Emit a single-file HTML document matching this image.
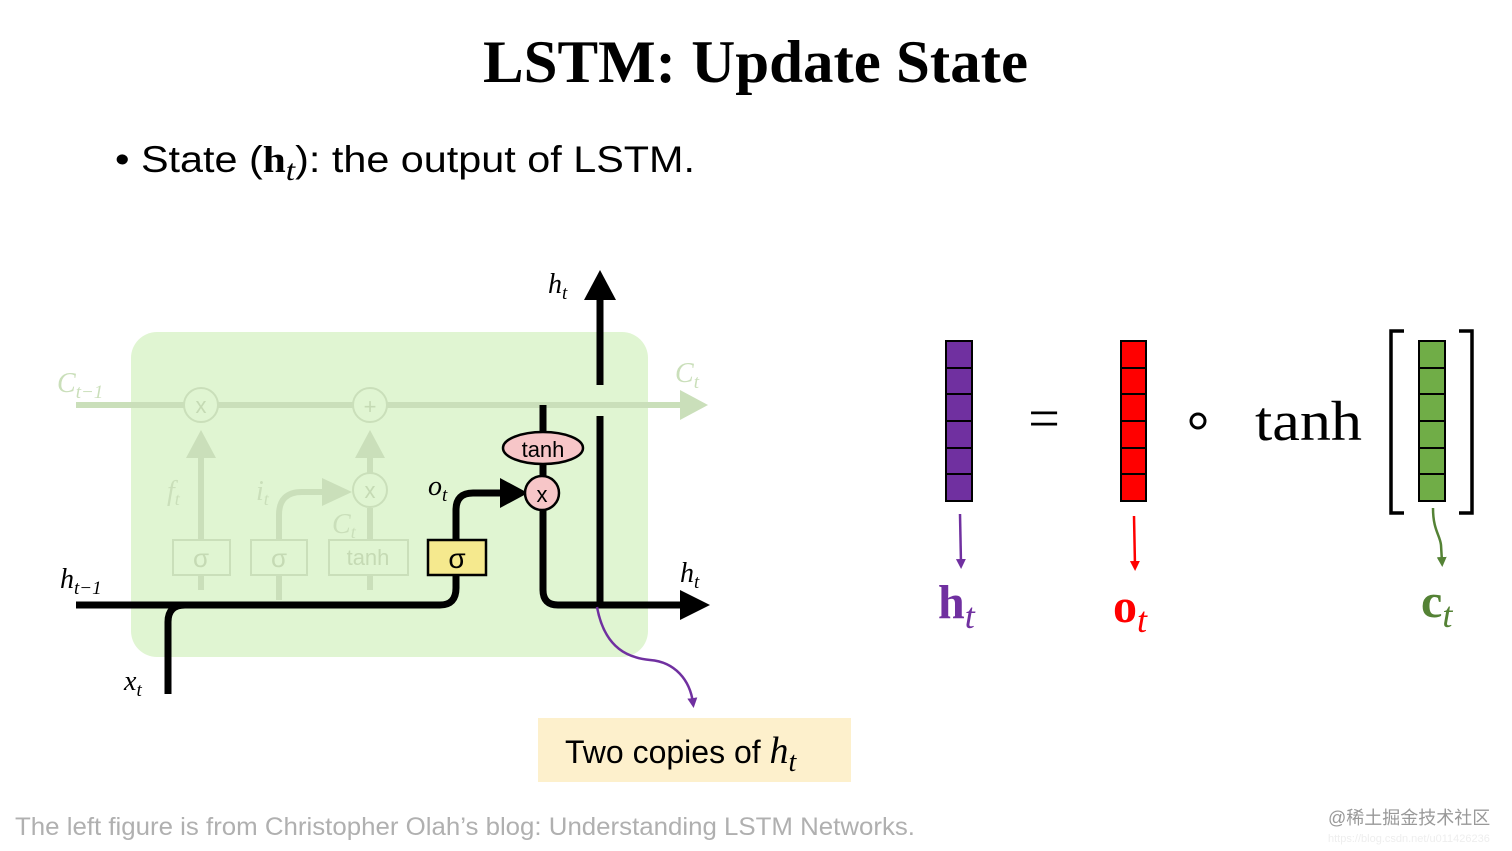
<!DOCTYPE html>
<html><head><meta charset="utf-8"><style>
html,body{margin:0;padding:0;background:#fff;}
svg{display:block;}
</style></head><body>
<svg width="1512" height="851" viewBox="0 0 1512 851" xmlns="http://www.w3.org/2000/svg">
<defs>
<marker id="ap" markerWidth="10" markerHeight="10" refX="5" refY="5" orient="auto" markerUnits="userSpaceOnUse"><path d="M0,0 L10,5 L0,10 z" fill="#7030a0"/></marker>
<marker id="ar" markerWidth="10" markerHeight="10" refX="5" refY="5" orient="auto" markerUnits="userSpaceOnUse"><path d="M0,0 L10,5 L0,10 z" fill="#ff0000"/></marker>
<marker id="ag" markerWidth="10" markerHeight="10" refX="5" refY="5" orient="auto" markerUnits="userSpaceOnUse"><path d="M0,0 L10,5 L0,10 z" fill="#548235"/></marker>
</defs>
<text x="483" y="82" font-family="Liberation Serif, serif" font-weight="bold" font-size="60" textLength="545" lengthAdjust="spacingAndGlyphs">LSTM: Update State</text>
<text x="115" y="172" font-family="Liberation Sans, sans-serif" font-size="37" textLength="580" lengthAdjust="spacingAndGlyphs">• State (<tspan font-family="Liberation Serif, serif" font-weight="bold">h</tspan><tspan font-family="Liberation Serif, serif" font-style="italic" dy="8" font-size="30">t</tspan><tspan dy="-8">): the output of LSTM.</tspan></text>

<rect x="131" y="332" width="517" height="325" rx="26" fill="#e0f5d2"/>
<g stroke="#cadfba" fill="none" stroke-width="6">
<line x1="76" y1="405" x2="688" y2="405"/>
<line x1="201" y1="590" x2="201" y2="452"/>
<line x1="370" y1="590" x2="370" y2="508"/>
<line x1="370" y1="474" x2="370" y2="452"/>
<path d="M279 600 L279 515 Q279 492 302 492 L330 492"/>
</g>
<g fill="#cadfba">
<path d="M680 390 L708 405 L680 420z"/>
<path d="M186 458 L201 430 L216 458z"/>
<path d="M355 458 L370 430 L385 458z"/>
<path d="M322 478 L352 492 L322 506z"/>
</g>
<g fill="#e0f5d2" stroke="#cadfba" stroke-width="2">
<circle cx="201" cy="405" r="17"/><circle cx="370" cy="405" r="17"/><circle cx="370" cy="490" r="17"/>
<rect x="173" y="540" width="57" height="35"/><rect x="251" y="540" width="56" height="35"/><rect x="329" y="540" width="79" height="35"/>
</g>
<g font-family="Liberation Sans, sans-serif" fill="#c5dab4" font-size="22" text-anchor="middle">
<text x="201" y="413">x</text><text x="370" y="414">+</text><text x="370" y="498">x</text>
<text x="201" y="567" font-size="26">σ</text><text x="279" y="567" font-size="26">σ</text><text x="368" y="565">tanh</text>
</g>
<g font-family="Liberation Serif, serif" font-style="italic" fill="#cadfba" font-size="28">
<text x="57" y="392">C<tspan font-size="19" dy="6">t−1</tspan></text>
<text x="675" y="382">C<tspan font-size="19" dy="6">t</tspan></text>
<text x="167" y="500">f<tspan font-size="18" dy="5">t</tspan></text>
<text x="256" y="500">i<tspan font-size="18" dy="5">t</tspan></text>
<text x="332" y="533">C<tspan font-size="18" dy="5">t</tspan></text>
</g>
<g stroke="#000" fill="none" stroke-width="7">
<path d="M76 605 L440 605 Q456 605 456 588 L456 575"/>
<path d="M168 694 L168 622 Q168 605 185 605"/>
<path d="M456 540 L456 510 Q456 493 473 493 L505 493"/>
<line x1="543" y1="405" x2="543" y2="432"/>
<line x1="543" y1="464" x2="543" y2="476"/>
<path d="M543 510 L543 590 Q543 605 558 605 L685 605"/>
<line x1="600" y1="385" x2="600" y2="298"/>
<line x1="600" y1="416" x2="600" y2="605"/>
</g>
<path d="M500 478 L528 493 L500 508z"/>
<path d="M680 590 L710 605 L680 620z"/>
<path d="M584 300 L600 270 L616 300z"/>
<rect x="428" y="540" width="58" height="35" fill="#f5e98e" stroke="#000" stroke-width="2.5"/>
<text x="457" y="568" font-family="Liberation Sans, sans-serif" font-size="28" text-anchor="middle">σ</text>
<ellipse cx="543" cy="448" rx="40" ry="16" fill="#f7c6c8" stroke="#000" stroke-width="2.5"/>
<text x="543" y="457" font-family="Liberation Sans, sans-serif" font-size="22" text-anchor="middle">tanh</text>
<circle cx="542" cy="493" r="17" fill="#f7c6c8" stroke="#000" stroke-width="2.5"/>
<text x="542" y="502" font-family="Liberation Sans, sans-serif" font-size="22" text-anchor="middle">x</text>
<g font-family="Liberation Serif, serif" font-style="italic" font-size="28">
<text x="548" y="293">h<tspan font-size="19" dy="6">t</tspan></text>
<text x="680" y="582">h<tspan font-size="19" dy="6">t</tspan></text>
<text x="60" y="588">h<tspan font-size="19" dy="6">t−1</tspan></text>
<text x="428" y="495">o<tspan font-size="19" dy="6">t</tspan></text>
<text x="124" y="690">x<tspan font-size="19" dy="6">t</tspan></text>
</g>
<path d="M597 607 C605 650 630 658 650 660 C675 662 690 680 693 703" stroke="#7030a0" stroke-width="2.5" fill="none" marker-end="url(#ap)"/>
<rect x="538" y="718" width="313" height="64" fill="#fdf0cc"/>
<text x="565" y="763" font-family="Liberation Sans, sans-serif" font-size="32">Two copies of <tspan font-family="Liberation Serif, serif" font-style="italic" font-size="38">h</tspan><tspan font-family="Liberation Serif, serif" font-style="italic" font-size="28" dy="8">t</tspan></text>

<g stroke="#000" stroke-width="2">
<g fill="#7030a0"><rect x="946" y="341" width="26" height="27"/><rect x="946" y="368" width="26" height="26"/><rect x="946" y="394" width="26" height="27"/><rect x="946" y="421" width="26" height="27"/><rect x="946" y="448" width="26" height="26"/><rect x="946" y="474" width="26" height="27"/></g>
<g fill="#ff0000"><rect x="1121" y="341" width="25" height="27"/><rect x="1121" y="368" width="25" height="26"/><rect x="1121" y="394" width="25" height="27"/><rect x="1121" y="421" width="25" height="27"/><rect x="1121" y="448" width="25" height="26"/><rect x="1121" y="474" width="25" height="27"/></g>
<g fill="#70ad47"><rect x="1419" y="341" width="26" height="27"/><rect x="1419" y="368" width="26" height="26"/><rect x="1419" y="394" width="26" height="27"/><rect x="1419" y="421" width="26" height="27"/><rect x="1419" y="448" width="26" height="26"/><rect x="1419" y="474" width="26" height="27"/></g>
</g>
<path d="M1404 331 L1391 331 L1391 513 L1404 513" stroke="#000" stroke-width="3.5" fill="none"/>
<path d="M1459 331 L1472 331 L1472 513 L1459 513" stroke="#000" stroke-width="3.5" fill="none"/>
<text x="1044" y="437" font-family="Liberation Serif, serif" font-size="56" text-anchor="middle">=</text>
<circle cx="1198" cy="421" r="7" fill="none" stroke="#000" stroke-width="3"/>
<text x="1255" y="440" font-family="Liberation Serif, serif" font-size="56" textLength="107" lengthAdjust="spacingAndGlyphs">tanh</text>
<path d="M960 514 L961 564" stroke="#7030a0" stroke-width="2.5" marker-end="url(#ap)"/>
<path d="M1134 516 L1135 566" stroke="#ff0000" stroke-width="2.5" marker-end="url(#ar)"/>
<path d="M1433 508 C1433 530 1440 535 1441 545 L1442 562" stroke="#548235" stroke-width="2.5" fill="none" marker-end="url(#ag)"/>
<g font-family="Liberation Serif, serif" font-weight="bold" font-size="48">
<text x="938" y="618" fill="#7030a0">h<tspan font-weight="normal" font-style="italic" font-size="36" dy="10">t</tspan></text>
<text x="1113" y="622" fill="#ff0000">o<tspan font-weight="normal" font-style="italic" font-size="36" dy="10">t</tspan></text>
<text x="1421" y="617" fill="#548235">c<tspan font-weight="normal" font-style="italic" font-size="36" dy="10">t</tspan></text>
</g>
<text x="15" y="835" font-family="Liberation Sans, sans-serif" font-size="25" fill="#b0b0b0" textLength="900" lengthAdjust="spacingAndGlyphs">The left figure is from Christopher Olah’s blog: Understanding LSTM Networks.</text>
<text x="1328" y="824" font-family="Liberation Sans, 'Noto Sans CJK SC', sans-serif" font-size="18" fill="#999">@稀土掘金技术社区</text>
<text x="1328" y="842" font-family="Liberation Sans, sans-serif" font-size="11" fill="#eee">https://blog.csdn.net/u011426236</text>
</svg>
</body></html>
